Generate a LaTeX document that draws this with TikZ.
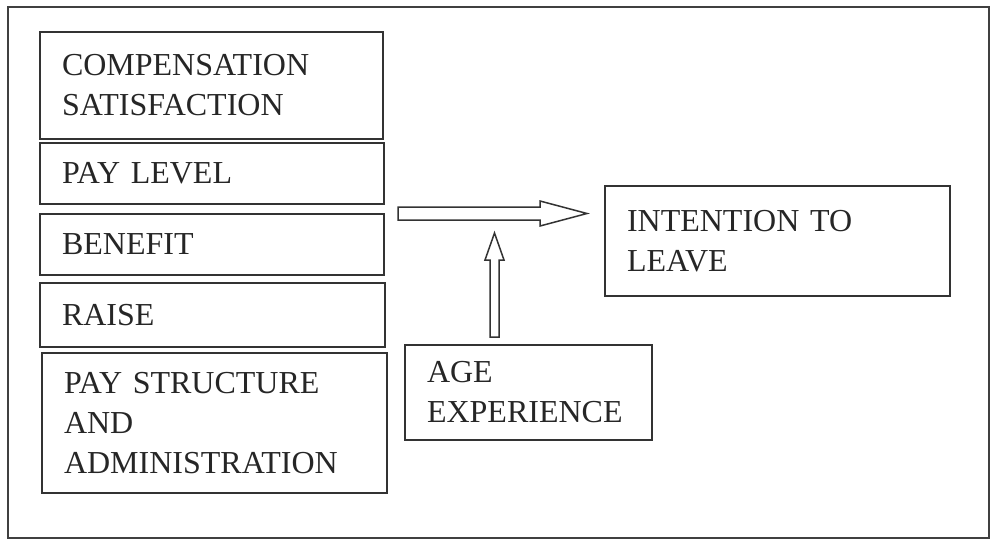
\documentclass[tikz,border=0pt]{standalone}
\usepackage{fontspec}
\setmainfont{Liberation Serif}
\begin{document}
\begin{tikzpicture}[x=1pt,y=-1pt,
  ink/.style={draw=black!80, line width=1.6pt},
  box/.style={ink, rectangle, inner xsep=22pt, inner ysep=0pt, align=left,
    font=\fontsize{32}{40}\selectfont, text=black!85},
  blockarrow/.style={draw=black!80, line width=1.5pt, fill=white, line join=miter}]
\useasboundingbox (0,0) rectangle (990,541);
\fill[white] (0,0) rectangle (990,541);
\draw[draw=black!75, line width=1.5pt] (8,7) rectangle (989,538);

\node[box, text width=299pt, minimum width=343pt, minimum height=107pt] (comp) at (211.5,85.5) {COMPENSATION\\SATISFACTION};
\node[box, text width=300pt, minimum width=344pt, minimum height=61pt] (pay) at (212,173.5) {PAY LEVEL};
\node[box, text width=300pt, minimum width=344pt, minimum height=61pt] (ben) at (212,244.5) {BENEFIT};
\node[box, text width=301pt, minimum width=345pt, minimum height=64pt] (raise) at (212.5,315) {RAISE};
\node[box, text width=301pt, minimum width=345pt, minimum height=140pt] (struct) at (214.5,423) {PAY STRUCTURE\\AND\\ADMINISTRATION};
\node[box, text width=203pt, minimum width=247pt, minimum height=95pt] (age) at (528.5,392.5) {AGE\\EXPERIENCE};
\node[box, text width=301pt, minimum width=345pt, minimum height=110pt] (leave) at (777.5,241) {INTENTION TO\\LEAVE};

% block arrows
\coordinate (hstartT) at (398,207);
\coordinate (hstartB) at (398,220);
\coordinate (htip) at (587,213.5);
\draw[blockarrow] (hstartT) -- (540,207) -- (540,201) -- (htip) -- (540,226) -- (540,220) -- (hstartB) -- cycle;
\coordinate (vstartL) at (490,337);
\coordinate (vstartR) at (499,337);
\coordinate (vtip) at (494.5,233);
\draw[blockarrow] (vstartL) -- (490,260) -- (485,260) -- (vtip) -- (504,260) -- (499,260) -- (vstartR) -- cycle;
\end{tikzpicture}
\end{document}
